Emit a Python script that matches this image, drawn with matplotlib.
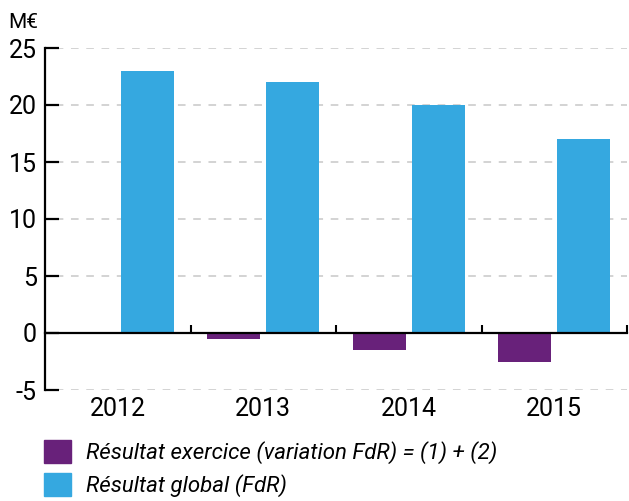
import numpy as np
import matplotlib.pyplot as plt
from matplotlib.patches import Patch

plt.rcParams['font.family'] = ['Roboto', 'DejaVu Sans']

annees = ['2012', '2013', '2014', '2015']
resultat_exercice = [0, -0.5, -1.5, -2.5]
resultat_global = [23, 22, 20, 17]
yticks = [-5, 0, 5, 10, 15, 20, 25]

violet = '#68217a'
bleu = '#35a8e0'

fig = plt.figure(figsize=(6.29, 5.01), dpi=100)
ax = fig.add_axes([45 / 629, 1 - 390 / 501, 582 / 629, 342 / 501])

x = np.arange(len(annees))
largeur = 0.364
ax.bar(x - 0.204, resultat_exercice, largeur, color=violet, zorder=2)
ax.bar(x + 0.204, resultat_global, largeur, color=bleu, zorder=2)

ax.set_xlim(-0.5, 3.5)
ax.set_ylim(-5, 25)
ax.set_yticks(yticks)
ax.set_yticklabels([str(v) for v in yticks], fontsize=18)
ax.grid(axis='y', color='#c8c8c8', linestyle=(3, (5, 5)), linewidth=1.1, zorder=0)

# axe horizontal au niveau de zéro
ax.spines['top'].set_visible(False)
ax.spines['right'].set_visible(False)
ax.spines['bottom'].set_position(('data', 0))
ax.spines['bottom'].set_linewidth(1.6)
ax.spines['bottom'].set_zorder(3)
ax.spines['left'].set_linewidth(1.6)

ax.set_xticks(x)
ax.set_xticklabels(annees, fontsize=18)
ax.tick_params(axis='x', which='major', length=0, pad=46)
ax.set_xticks(np.arange(len(annees)) + 0.5, minor=True)
ax.tick_params(axis='x', which='minor', direction='in', length=6, width=1.5)
ax.tick_params(axis='y', direction='in', length=10, width=1.6, pad=6)

fig.text(8 / 629, 1 - 28 / 501, 'M€', fontsize=15)

poignees = [Patch(color=violet), Patch(color=bleu)]
etiquettes = ['Résultat exercice (variation FdR) = (1) + (2)', 'Résultat global (FdR)']
fig.legend(poignees, etiquettes, loc='upper left',
           bbox_to_anchor=(44 / 629, 1 - 440 / 501), frameon=False,
           prop={'size': 16, 'style': 'italic'}, borderpad=0, borderaxespad=0,
           handlelength=1.2, handleheight=1.2, handletextpad=0.68, labelspacing=0.4)

plt.savefig('out.png', dpi=100)
